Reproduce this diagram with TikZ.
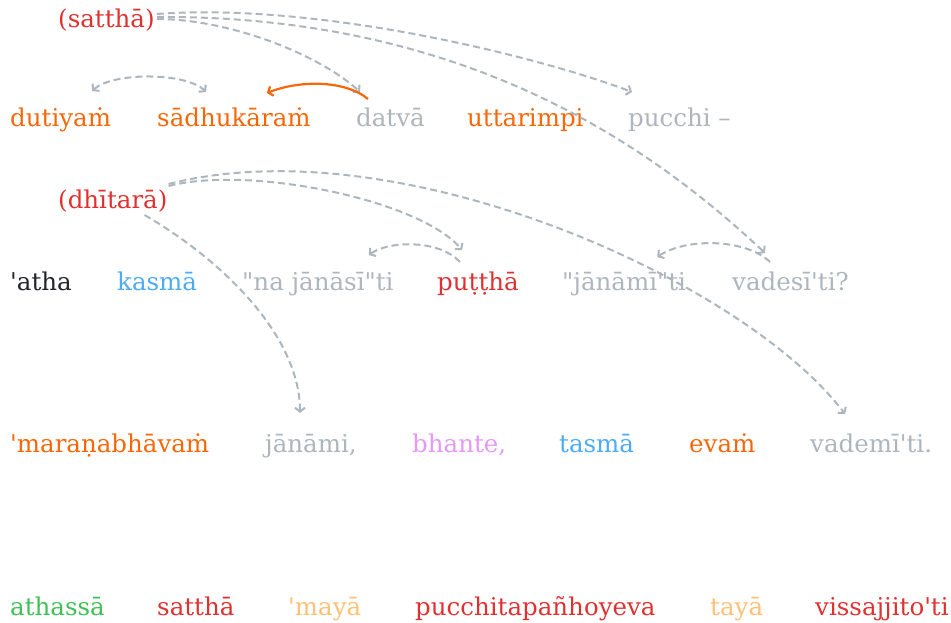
\documentclass[tikz,border=0pt]{standalone}
\usepackage{fontspec}
\usepackage{xcolor}
\usepackage{tikz}
\usetikzlibrary{arrows.meta}
\newfontfamily\palifont{DejaVu Serif}
\definecolor{wred}{HTML}{E03131}
\definecolor{worange}{HTML}{F76707}
\definecolor{wgray}{HTML}{ADB5BD}
\definecolor{wblue}{HTML}{4DABF7}
\definecolor{wviolet}{HTML}{E599F7}
\definecolor{wgreen}{HTML}{40C057}
\definecolor{wpeach}{HTML}{FFC078}
\definecolor{wblack}{HTML}{212529}

\begin{document}
\begin{tikzpicture}
            [x=1pt,y=-1pt,every node/.style={anchor=base west, inner sep=0pt, font=\palifont\fontsize{24.5}{29}\selectfont},
             link/.style={draw=wgray, line width=2pt, dash pattern=on 7pt off 4pt, -{Straight Barb[length=4pt,width=10pt]}},
             both/.style={link, {Straight Barb[length=4pt,width=10pt]}-{Straight Barb[length=4pt,width=10pt]}},
             pull/.style={draw=worange, line width=2.2pt, -{Straight Barb[length=4pt,width=10pt]}}]
            \useasboundingbox (0,0) rectangle (951,623);
            \node[text=wred] (sattha) at (58,28) {(satthā)};
            \node[text=worange] (dutiyam) at (10,127) {dutiyaṁ};
            \node[text=worange] (sadhukaram) at (157,127) {sādhukāraṁ};
            \node[text=wgray] (datva) at (356,127) {datvā};
            \node[text=worange] (uttarimpi) at (467,127) {uttarimpi};
            \node[text=wgray] (pucchi) at (628,127) {pucchi –};
            \node[text=wred] (dhitara) at (58,208) {(dhītarā)};
            \node[text=wblack] (atha) at (10,290) {'atha};
            \node[text=wblue] (kasma) at (117,290) {kasmā};
            \node[text=wgray] (najanasi) at (242,290) {"na jānāsī"ti};
            \node[text=wred] (puttha) at (437,290) {puṭṭhā};
            \node[text=wgray] (janami) at (562,290) {"jānāmī"ti};
            \node[text=wgray] (vadesi) at (732,290) {vadesī'ti?};
            \node[text=worange] (maranabhavam) at (10,452) {'maraṇabhāvaṁ};
            \node[text=wgray] (janamiB) at (265,452) {jānāmi,};
            \node[text=wviolet] (bhante) at (412,452) {bhante,};
            \node[text=wblue] (tasma) at (559,452) {tasmā};
            \node[text=worange] (evam) at (689,452) {evaṁ};
            \node[text=wgray] (vademi) at (810,452) {vademī'ti.};
            \node[text=wgreen] (athassa) at (10,615) {athassā};
            \node[text=wred] (satthaB) at (157,615) {satthā};
            \node[text=wpeach] (maya) at (288,615) {'mayā};
            \node[text=wred] (pucchita) at (415,615) {pucchitapañhoyeva};
            \node[text=wpeach] (taya) at (710,615) {tayā};
            \node[text=wred] (vissajjito) at (815,615) {vissajjito'ti};

            \draw[link] ([shift={(2,-9)}]sattha.base east) .. controls (230,19) and (320,55) .. ([shift={(4,-35)}]datva.base west);
            \draw[link] ([shift={(2,-14)}]sattha.base east) .. controls (320,2) and (540,57) .. ([shift={(4,-35)}]pucchi.base west);
            \draw[link] ([shift={(2,-11)}]sattha.base east) .. controls (470,15) and (655,150) .. ([shift={(33,-37)}]vadesi.base west);
            \draw[both] ([shift={(-19,-36)}]dutiyam.base east) .. controls (112,72) and (186,72) .. ([shift={(49,-35)}]sadhukaram.base west);
            \draw[pull] ([shift={(12,-28)}]datva.base west) .. controls (345,80) and (300,80) .. ([shift={(-44,-34)}]sadhukaram.base east);
            \draw[link] ([shift={(1,-22)}]dhitara.base east) .. controls (250,165) and (420,200) .. ([shift={(25,-40)}]puttha.base west);
            \draw[link] ([shift={(1,-24)}]dhitara.base east) .. controls (400,125) and (745,282) .. ([shift={(35,-38)}]vademi.base west);
            \draw[link] ([shift={(-23,7)}]dhitara.base east) .. controls (230,265) and (300,340) .. ([shift={(35,-39)}]janamiB.base west);
            \draw[link] ([shift={(23,-28)}]puttha.base west) .. controls (440,240) and (390,240) .. ([shift={(-25,-35)}]najanasi.base east);
            \draw[link] ([shift={(38,-28)}]vadesi.base west) .. controls (745,238) and (685,238) .. ([shift={(-29,-33)}]janami.base east);
          \end{tikzpicture}
\end{document}
